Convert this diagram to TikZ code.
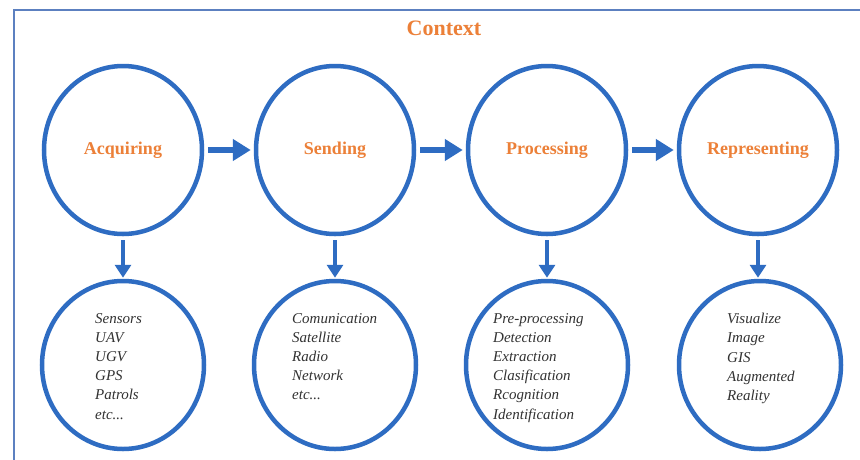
\documentclass[tikz,border=0pt]{standalone}
\usepackage{fontspec}
\setmainfont{Liberation Serif}
\usetikzlibrary{shapes.geometric,arrows.meta}
\definecolor{ringblue}{RGB}{46,108,194}
\definecolor{framblue}{RGB}{92,128,192}
\definecolor{stageorange}{RGB}{236,128,56}
\definecolor{listgray}{RGB}{50,50,50}
\tikzset{
  stage/.style={ellipse, draw=ringblue, line width=4.5pt, minimum width=158pt, minimum height=168pt, inner sep=0pt},
  stagelabel/.style={text=stageorange, font=\fontsize{18}{20}\selectfont\bfseries},
  items/.style={ellipse, draw=ringblue, line width=4.5pt, minimum width=162pt, minimum height=168pt, inner sep=0pt},
  itemlist/.style={anchor=north west, align=left, inner sep=0pt, text=listgray,
    font=\fontsize{15}{19.2}\selectfont\itshape},
  flow/.style={draw=ringblue, line width=6pt, -{Triangle[length=18pt,width=21pt]}, shorten <=4pt, shorten >=3pt},
  drop/.style={draw=ringblue, line width=3.5pt, -{Triangle[length=13pt,width=16pt]}, shorten <=4pt, shorten >=1pt}
}
\begin{document}
\begin{tikzpicture}[x=1pt,y=-1pt]
  \path[use as bounding box, clip] (0,0) rectangle (860,459);
  \fill[white] (0,0) rectangle (860,459);
  % outer frame, running past the right and bottom edges
  \draw[framblue, line width=2.2pt] (14,10) rectangle (900,520);
  \node[text=stageorange, font=\fontsize{22}{24}\selectfont\bfseries] (title) at (444,28) {Context};

  % stages
  \node[stage] (acq) at (123,150) {};
  \node[stage] (snd) at (335,150) {};
  \node[stage] (prc) at (547,150) {};
  \node[stage] (rep) at (758,150) {};
  \node[stagelabel] (acqL) at (acq.center) {Acquiring};
  \node[stagelabel] (sndL) at (snd.center) {Sending};
  \node[stagelabel] (prcL) at (prc.center) {Processing};
  \node[stagelabel] (repL) at (rep.center) {Representing};

  % detail circles
  \node[items] (acqD) at (123,365) {};
  \node[items] (sndD) at (335,365) {};
  \node[items] (prcD) at (547,365) {};
  \node[items] (repD) at (760,365) {};

  \node[itemlist] (acqT) at (95,313) {Sensors\\UAV\\UGV\\GPS\\Patrols\\etc...};
  \node[itemlist] (sndT) at (292,313) {Comunication\\Satellite\\Radio\\Network\\etc...};
  \node[itemlist] (prcT) at (493,313) {Pre-processing\\Detection\\Extraction\\Clasification\\Rcognition\\Identification};
  \node[itemlist] (repT) at (727,313) {Visualize\\Image\\GIS\\Augmented\\Reality};

  % connectors
  \draw[flow] (acq) -- (snd);
  \draw[flow] (snd) -- (prc);
  \draw[flow] (prc) -- (rep);
  \draw[drop] (acq) -- (acqD);
  \draw[drop] (snd) -- (sndD);
  \draw[drop] (prc) -- (prcD);
  \draw[drop] (rep.south) -- (rep.south |- repD.north);
\end{tikzpicture}
\end{document}
